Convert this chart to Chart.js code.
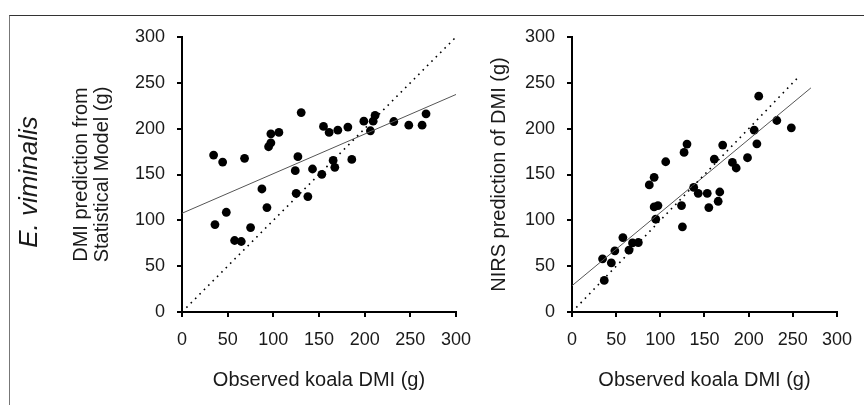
<!DOCTYPE html>
<html>
<head>
<meta charset="utf-8">
<script src="https://cdn.jsdelivr.net/npm/chart.js@4"></script>
<style>
  body { margin: 0; background: #fff; }
  #wrap { position: relative; width: 864px; height: 405px; overflow: hidden; }
  #frame { position: absolute; left: 9px; top: 15px; right: 0; bottom: 0;
           border-top: 1px solid #333; border-left: 1px solid #777; }
  .box { position: absolute; top: 0; height: 405px; }
</style>
</head>
<body>
<div id="wrap">
  <div id="frame"></div>
  <div class="box" style="left:0;width:490px"><canvas id="leftChart"></canvas></div>
  <div class="box" style="left:470px;width:394px"><canvas id="rightChart"></canvas></div>
</div>
<script>
// Observed koala DMI (g) vs DMI predicted by the statistical model (g)
const leftObserved = [34.6, 44.5, 68.5, 97.3, 94.8, 97.3, 106.1, 130.5, 126.9, 124.0, 125.0, 137.8,
  142.9, 153.1, 154.9, 161.1, 170.6, 181.6, 165.5, 167.3, 185.9, 199.1, 206.3, 209.3, 211.4, 231.9,
  248.3, 262.9, 267.2, 87.5, 93.0, 48.5, 36.1, 57.6, 64.9, 75.1];
const leftPredicted = [171.2, 163.6, 167.6, 184.6, 180.3, 194.4, 195.9, 217.6, 169.4, 154.2, 129.5, 125.9,
  156.0, 150.2, 202.4, 195.9, 198.4, 201.7, 165.4, 157.8, 166.5, 208.2, 197.7, 208.2, 214.4, 207.8,
  203.8, 203.8, 216.2, 134.2, 113.9, 108.8, 95.4, 78.0, 76.9, 92.1];
const leftFitX = [0, 300];
const leftFitY = [107.7, 237.3];

// Observed koala DMI (g) vs NIRS prediction of DMI (g)
const rightObserved = [34.6, 36.5, 44.5, 48.5, 57.6, 64.5, 68.5, 75.1, 87.5, 93.0, 93.0, 97.3, 94.8,
  106.1, 126.9, 130.2, 124.0, 125.0, 137.8, 142.9, 153.1, 154.9, 161.1, 170.6, 167.3, 165.5, 181.6,
  185.9, 198.7, 206.3, 209.3, 211.4, 231.9, 248.3];
const rightPredicted = [58.0, 34.5, 53.7, 66.7, 81.2, 67.5, 75.4, 75.8, 138.6, 146.9, 114.6, 116.1, 101.2,
  163.9, 174.1, 183.2, 116.1, 92.9, 136.0, 129.5, 129.5, 113.9, 166.8, 182.1, 130.9, 120.8, 163.2,
  157.1, 168.3, 198.4, 183.5, 235.4, 208.9, 200.9];
const rightFitX = [0, 270.5];
const rightFitY = [28.7, 244.5];

// 1:1 reference lines
const leftOneToOne = [0, 300];
const rightOneToOne = [0, 258];

const axisTicks = [0, 50, 100, 150, 200, 250, 300];

const FONT = "'Liberation Sans', Arial, sans-serif";
const TEXT = "#1a1a1a";

function pairs(xs, ys) {
  return xs.map((x, i) => ({ x: x, y: ys[i] }));
}

function buildChart(id, cfg) {
  const axisCommon = {
    type: "linear",
    min: 0,
    max: 300,
    afterBuildTicks: (s) => { s.ticks = axisTicks.map(v => ({ value: v })); },
    border: { display: true, color: "#000", width: 2 },
    grid: { drawOnChartArea: false, drawTicks: true, tickLength: 5, color: "#000", lineWidth: 2 },
  };
  return new Chart(document.getElementById(id), {
    type: "scatter",
    data: {
      datasets: [
        {
          data: pairs(cfg.oneToOne, cfg.oneToOne),
          showLine: true,
          borderColor: "#000",
          borderWidth: 1.6,
          borderDash: [1.6, 4.6],
          pointRadius: 0,
        },
        {
          data: pairs(cfg.fitX, cfg.fitY),
          showLine: true,
          borderColor: "#555",
          borderWidth: 1,
          pointRadius: 0,
        },
        {
          data: pairs(cfg.observed, cfg.predicted),
          backgroundColor: "#000",
          borderColor: "#000",
          pointRadius: 4.4,
          borderWidth: 0,
        },
      ],
    },
    options: {
      responsive: true,
      maintainAspectRatio: false,
      animation: false,
      layout: { padding: { left: 0, right: cfg.padRight, top: 37, bottom: 0 } },
      plugins: { legend: { display: false }, tooltip: { enabled: false } },
      scales: {
        x: Object.assign({}, axisCommon, {
          position: "bottom",
          afterFit: (s) => { s.height = 93; },
          ticks: { color: TEXT, font: { family: FONT, size: 18 }, padding: 12, maxRotation: 0 },
          title: {
            display: true,
            text: "Observed koala DMI (g)",
            color: TEXT,
            font: { family: FONT, size: 20, lineHeight: 1.05 },
            padding: { top: 0, bottom: 14 },
          },
        }),
        y: Object.assign({}, axisCommon, {
          position: "left",
          afterFit: (s) => { s.width = cfg.yWidth; },
          ticks: { color: TEXT, font: { family: FONT, size: 18 }, padding: 12 },
          title: {
            display: true,
            text: cfg.yTitle,
            color: TEXT,
            font: { family: FONT, size: 20, lineHeight: 1.05 },
            padding: { top: cfg.yTitlePad, bottom: 0 },
          },
        }),
      },
    },
    plugins: cfg.plugins || [],
  });
}

// Species label at the far left
const speciesLabel = {
  id: "speciesLabel",
  afterDraw(chart) {
    const ctx = chart.ctx;
    ctx.save();
    ctx.translate(30, 182);
    ctx.rotate(-Math.PI / 2);
    ctx.font = "italic 26px " + FONT;
    ctx.fillStyle = TEXT;
    ctx.textAlign = "center";
    ctx.textBaseline = "middle";
    ctx.fillText("E. viminalis", 0, 0);
    ctx.restore();
  },
};

buildChart("leftChart", {
  observed: leftObserved,
  predicted: leftPredicted,
  fitX: leftFitX,
  fitY: leftFitY,
  oneToOne: leftOneToOne,
  yTitle: ["DMI prediction from", "Statistical Model (g)"],
  yTitlePad: 71,
  yWidth: 182,
  padRight: 34,
  plugins: [speciesLabel],
});

buildChart("rightChart", {
  observed: rightObserved,
  predicted: rightPredicted,
  fitX: rightFitX,
  fitY: rightFitY,
  oneToOne: rightOneToOne,
  yTitle: "NIRS prediction of DMI (g)",
  yTitlePad: 19,
  yWidth: 102,
  padRight: 18,
});
</script>
</body>
</html>
